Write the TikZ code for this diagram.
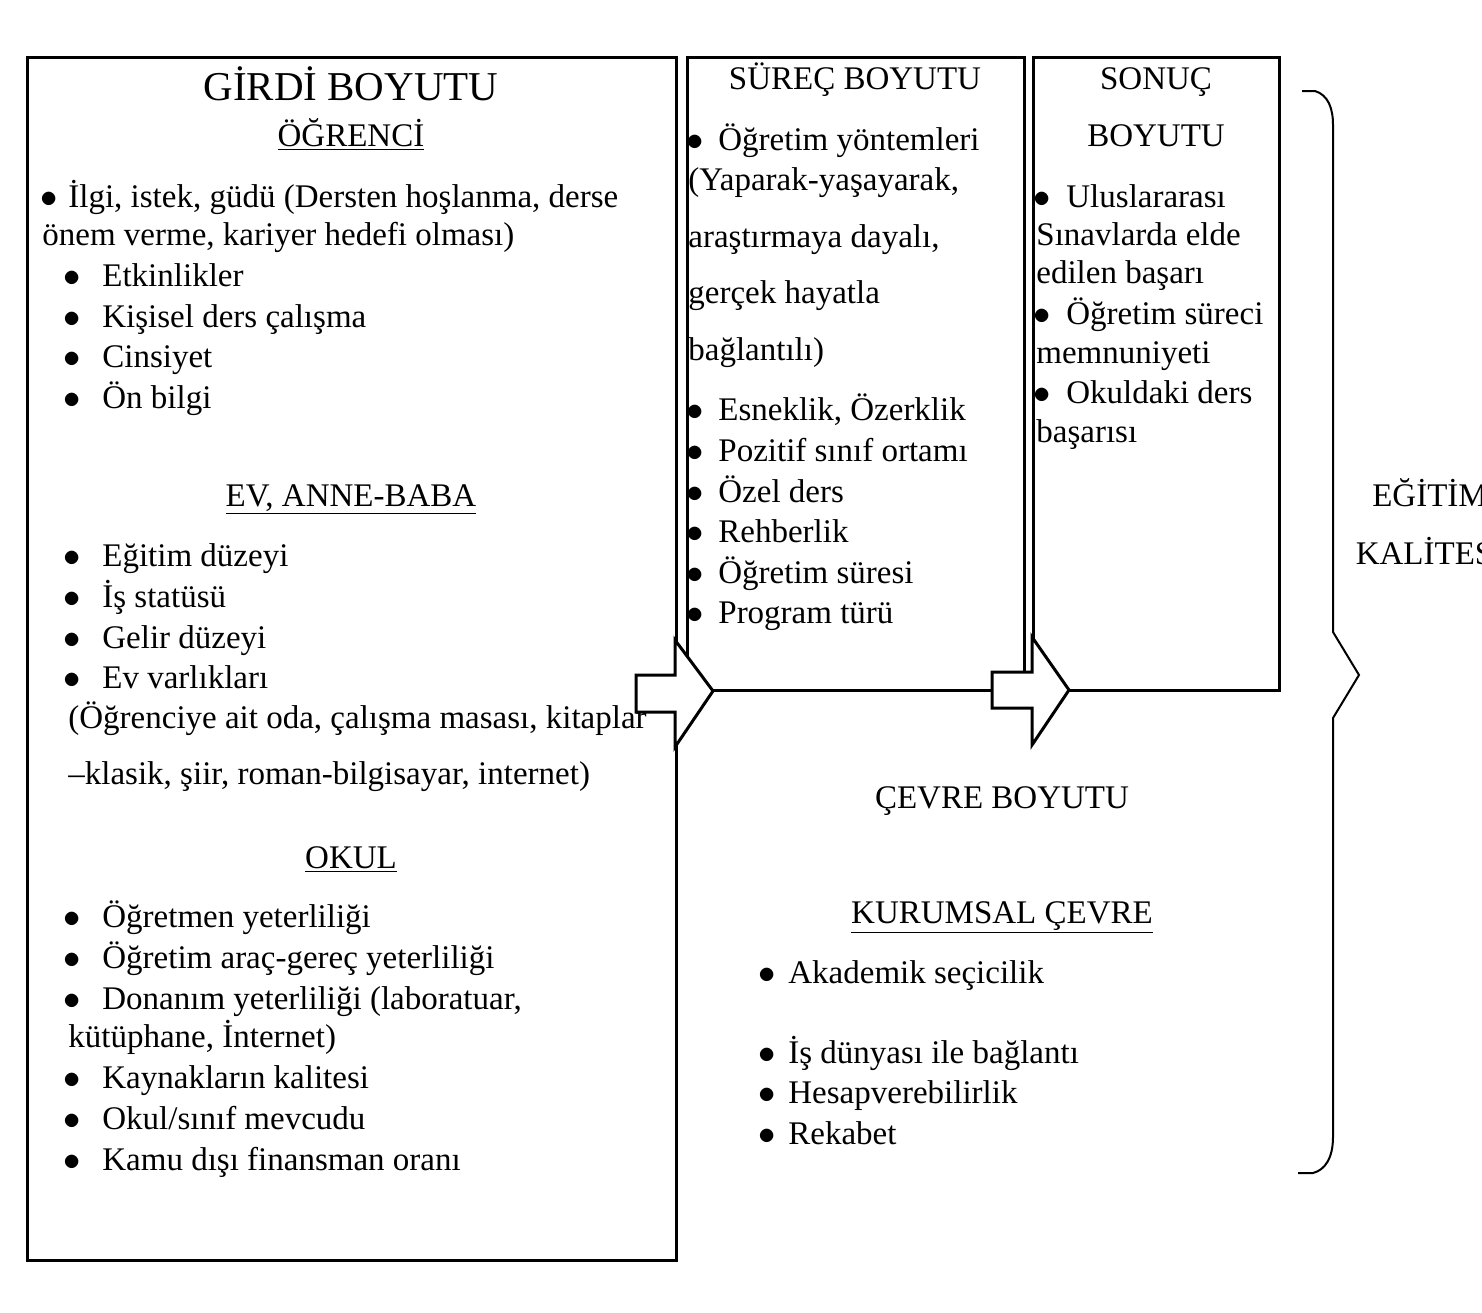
\documentclass[tikz,border=0pt]{standalone}
\usepackage{fontspec}
\setmainfont{Liberation Serif}
\usepackage{tikz}
\newcommand{\bul}[1]{\makebox[#1][l]{\kern-1pt$\bullet$}}
\newcommand{\bodyfont}{\fontsize{16.5pt}{20pt}\selectfont}

\begin{document}
\begin{tikzpicture}[x=0.5pt, y=-0.5pt,
    txt/.style={anchor=base west, inner sep=0, font=\bodyfont},
    head/.style={anchor=base, inner sep=0, font=\bodyfont},
    frame/.style={draw, line width=1.5pt},
    blockarrow/.style={draw, fill=white, line width=1.5pt, line join=miter}]
  \useasboundingbox (0, 0) rectangle (1482, 1312);

  % boxes
  \draw[frame] (27, 57) rectangle (676, 1260);
  \draw[frame] (687, 57) rectangle (1024, 690);
  \draw[frame] (1033, 57) rectangle (1279, 690);

  % input dimension
  \node[head, font=\fontsize{20.5pt}{24pt}\selectfont]
    (girdi) at (351, 100) {GİRDİ BOYUTU};
  \node[head] (ogr) at (351, 146) {\underline{ÖĞRENCİ}};
  \node[txt] (ogr1) at (42, 207) {\bul{13pt}İlgi, istek, güdü (Dersten hoşlanma, derse};
  \node[txt] (ogr1b) at (42, 245) {önem verme, kariyer hedefi olması)};
  \node[txt] (ogr2) at (65, 286) {\bul{18.5pt}Etkinlikler};
  \node[txt] (ogr3) at (65, 327) {\bul{18.5pt}Kişisel ders çalışma};
  \node[txt] (ogr4) at (65, 367) {\bul{18.5pt}Cinsiyet};
  \node[txt] (ogr5) at (65, 408) {\bul{18.5pt}Ön bilgi};

  \node[head] (ev) at (351, 506) {\underline{EV, ANNE-BABA}};
  \node[txt] (ev1) at (65, 566) {\bul{18.5pt}Eğitim düzeyi};
  \node[txt] (ev2) at (65, 607) {\bul{18.5pt}İş statüsü};
  \node[txt] (ev3) at (65, 648) {\bul{18.5pt}Gelir düzeyi};
  \node[txt] (ev4) at (65, 688) {\bul{18.5pt}Ev varlıkları};
  \node[txt] (ev4b) at (68, 728) {(Öğrenciye ait oda, çalışma masası, kitaplar};
  \node[txt] (ev4c) at (68, 784) {--klasik, şiir, roman-bilgisayar, internet)};

  \node[head] (okul) at (351, 868) {\underline{OKUL}};
  \node[txt] (okul1) at (65, 927) {\bul{18.5pt}Öğretmen yeterliliği};
  \node[txt] (okul2) at (65, 968) {\bul{18.5pt}Öğretim araç-gereç yeterliliği};
  \node[txt] (okul3) at (65, 1009) {\bul{18.5pt}Donanım yeterliliği (laboratuar,};
  \node[txt] (okul3b) at (68, 1047) {kütüphane, İnternet)};
  \node[txt] (okul4) at (65, 1088) {\bul{18.5pt}Kaynakların kalitesi};
  \node[txt] (okul5) at (65, 1129) {\bul{18.5pt}Okul/sınıf mevcudu};
  \node[txt] (okul6) at (65, 1170) {\bul{18.5pt}Kamu dışı finansman oranı};

  % process dimension
  \node[head] (surec) at (855, 89) {SÜREÇ BOYUTU};
  \node[txt] (sur1) at (688, 150) {\bul{15pt}Öğretim yöntemleri};
  \node[txt] (sur1b) at (688, 190) {(Yaparak-yaşayarak,};
  \node[txt] (sur1c) at (688, 247) {araştırmaya dayalı,};
  \node[txt] (sur1d) at (688, 303) {gerçek hayatla};
  \node[txt] (sur1e) at (688, 360) {bağlantılı)};
  \node[txt] (sur2) at (688, 420) {\bul{15pt}Esneklik, Özerklik};
  \node[txt] (sur3) at (688, 461) {\bul{15pt}Pozitif sınıf ortamı};
  \node[txt] (sur4) at (688, 502) {\bul{15pt}Özel ders};
  \node[txt] (sur5) at (688, 542) {\bul{15pt}Rehberlik};
  \node[txt] (sur6) at (688, 583) {\bul{15pt}Öğretim süresi};
  \node[txt] (sur7) at (688, 623) {\bul{15pt}Program türü};

  % output dimension
  \node[head] (sonuc) at (1156, 89) {SONUÇ};
  \node[head] (sonucb) at (1156, 146) {BOYUTU};
  \node[txt] (son1) at (1035, 207) {\bul{15.5pt}Uluslararası};
  \node[txt] (son1b) at (1036, 245) {Sınavlarda elde};
  \node[txt] (son1c) at (1036, 283) {edilen başarı};
  \node[txt] (son2) at (1035, 324) {\bul{15.5pt}Öğretim süreci};
  \node[txt] (son2b) at (1036, 363) {memnuniyeti};
  \node[txt] (son3) at (1035, 403) {\bul{15.5pt}Okuldaki ders};
  \node[txt] (son3b) at (1036, 442) {başarısı};

  % environment
  \node[head] (cevre) at (1002, 808) {ÇEVRE BOYUTU};
  \node[head] (kurum) at (1002, 923) {\underline{KURUMSAL ÇEVRE}};
  \node[txt] (kur1) at (760, 983) {\bul{14pt}Akademik seçicilik};
  \node[txt] (kur2) at (760, 1063) {\bul{14pt}İş dünyası ile bağlantı};
  \node[txt] (kur3) at (760, 1103) {\bul{14pt}Hesapverebilirlik};
  \node[txt] (kur4) at (760, 1144) {\bul{14pt}Rekabet};

  % block arrows
  \draw[blockarrow] (636, 675) -- (675, 675) -- (675, 640) -- (713, 691)
    -- (675, 747) -- (675, 712) -- (636, 712) -- cycle;
  \draw[blockarrow] (992, 672) -- (1032, 672) -- (1032, 637) -- (1069, 690)
    -- (1032, 745) -- (1032, 708) -- (992, 708) -- cycle;

  % brace
  \draw[line width=1pt] (1302, 91) -- (1315, 91)
    .. controls (1328, 95) and (1333, 108) .. (1333, 125)
    -- (1333, 632) -- (1359, 675) -- (1333, 718) -- (1333, 1137)
    .. controls (1333, 1158) and (1325, 1170) .. (1313, 1173) -- (1298, 1173);

  \node[head] (egitim) at (1430, 506) {EĞİTİM};
  \node[head] (kalite) at (1430, 564) {KALİTESİ};
\end{tikzpicture}
\end{document}
